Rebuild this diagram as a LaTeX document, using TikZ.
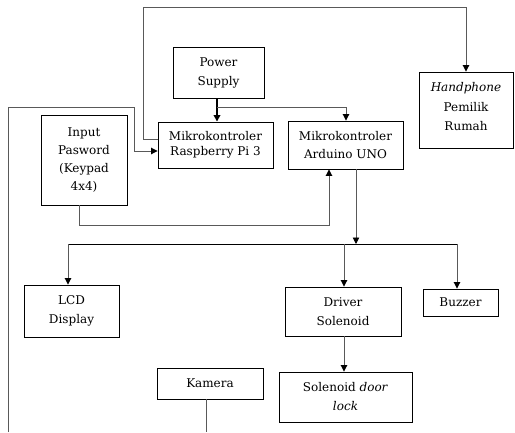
\documentclass[tikz,border=0pt]{standalone}
\usepackage{fontspec}
\setmainfont{DejaVu Serif}
\usetikzlibrary{arrows.meta}
\begin{document}
\begin{tikzpicture}[x=1pt,y=-1pt,
  box/.style={draw=black, line width=0.9pt, inner sep=0pt, align=center,
    font=\fontsize{12}{19}\selectfont},
  conn/.style={draw=black!65, line width=0.9pt},
  arr/.style={conn, -{Triangle[length=6.5pt,width=6.5pt,color=black]}}]
\useasboundingbox (0,0) rectangle (515,432);
% boxes
\node[box, minimum width=91pt, minimum height=51pt] (ps) at (218.5,72.5) {Power\\Supply};
\node[box, minimum width=115pt, minimum height=46pt, font=\fontsize{12}{15}\selectfont] (rpi) at (215.5,145) {Mikrokontroler\\Raspberry Pi 3};
\node[box, minimum width=115pt, minimum height=48pt, font=\fontsize{12}{18}\selectfont] (ard) at (345.5,145) {Mikrokontroler\\Arduino UNO};
\node[box, minimum width=94pt, minimum height=76pt] (hp) at (466,110) {};
\node[align=center, font=\fontsize{12}{19.5}\selectfont, inner sep=0pt] (hpt) at (466,107) {\textit{Handphone}\\Pemilik\\Rumah};
\node[box, minimum width=86pt, minimum height=90pt, font=\fontsize{12}{18}\selectfont] (inp) at (84,160) {Input\\Pasword\\(Keypad\\4x4)};
\node[box, minimum width=95pt, minimum height=52pt] (lcd) at (71.5,311) {LCD\\Display};
\node[box, minimum width=116pt, minimum height=49pt] (drv) at (343,311.5) {Driver\\Solenoid};
\node[box, minimum width=75pt, minimum height=27pt] (buz) at (460.5,302.5) {Buzzer};
\node[box, minimum width=133pt, minimum height=50pt] (sol) at (345.5,397) {Solenoid \textit{door}\\\textit{lock}};
\node[box, minimum width=106pt, minimum height=31pt] (kam) at (210,383.5) {Kamera};
% coordinates
\coordinate (lb) at (8,432);
\coordinate (kb) at (206,432);
\coordinate (j1) at (217,107);
\coordinate (j2) at (356,244);
% Raspberry -> Handphone
\draw[arr] (rpi.west |- 0,139) -- (143,139) -- (143,7) -| (hp.north);
% left outer line -> Raspberry
\draw[arr] (lb) -- (8,107) -- (134,107) -- (134,151) -- (rpi.west |- 0,151);
% power supply
\draw[arr, draw=black, line width=1.6pt] (ps.south -| j1) -- (rpi.north -| j1);
\draw[arr] (j1) -- (346,107) -- (ard.north -| 346,0);
% input -> arduino
\draw[arr] (inp.south -| 79,0) -- (79,225) -- (329,225) -- (ard.south -| 329,0);
% arduino -> outputs
\draw[arr] (ard.south -| j2) -- (j2);
\draw[conn, draw=black] (68,244) -- (457,244);
\draw[arr] (68,244) -- (lcd.north -| 68,0);
\draw[arr] (344,244) -- (drv.north -| 344,0);
\draw[arr] (457,244) -- (buz.north -| 457,0);
\draw[arr] (drv.south -| 344,0) -- (sol.north -| 344,0);
% kamera
\draw[conn] (kam.south -| kb) -- (kb);
\end{tikzpicture}
\end{document}
